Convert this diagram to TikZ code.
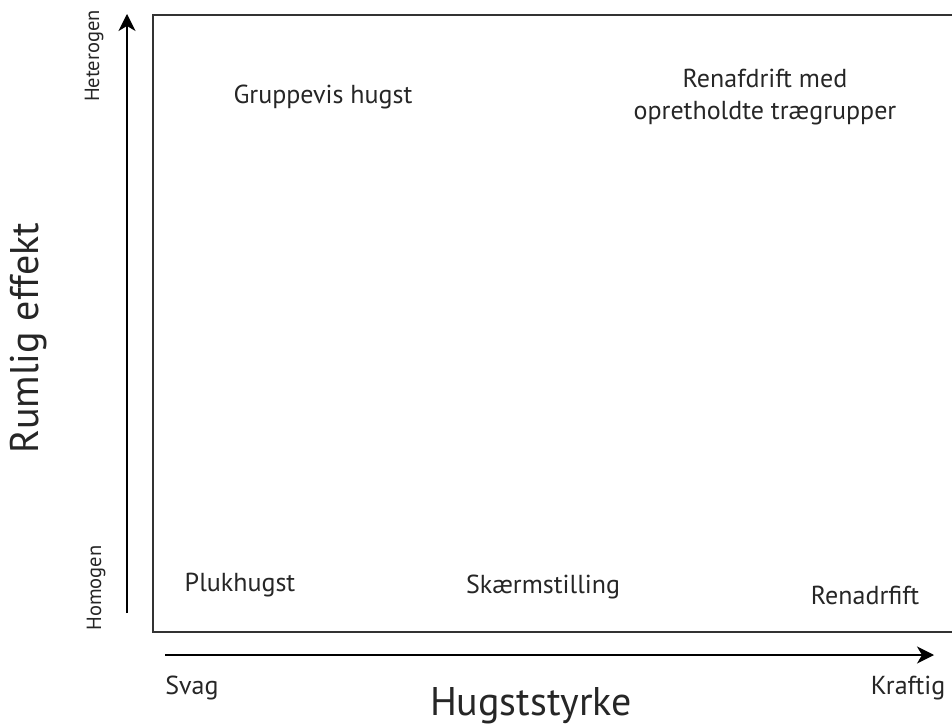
\documentclass[tikz,border=0pt]{standalone}
\usepackage{fontspec}
\setmainfont{PT Sans}
\usetikzlibrary{arrows.meta}
\begin{document}
\begin{tikzpicture}[x=1pt,y=-1pt,
  lbl/.style={inner sep=0pt, text=black!85, font=\fontsize{26}{31}\selectfont},
  small/.style={inner sep=0pt, text=black!85, font=\fontsize{20.5}{24}\selectfont},
  big/.style={inner sep=0pt, text=black!85, font=\fontsize{40}{46}\selectfont},
  axisarrow/.style={line width=1.6pt, -{Stealth[length=17pt,width=17pt,inset=5pt]}}]
\useasboundingbox (0,0) rectangle (952,727);
% frame (open on the right, cut by the edge)
\coordinate (fr) at (952,15);
\coordinate (ftl) at (153,15);
\coordinate (fbl) at (153,632);
\coordinate (fbr) at (952,632);
\draw[line width=2pt, black!80] (fr) -- (ftl) -- (fbl) -- (fbr);
% axes
\coordinate (ys) at (127,613);
\coordinate (ye) at (127,14);
\coordinate (xs) at (165,655);
\coordinate (xe) at (934,655);
\draw[axisarrow] (ys) -- (ye);
\draw[axisarrow] (xs) -- (xe);
% texts
\node[lbl] (grp) at (323,97) {Gruppevis hugst};
\node[lbl, align=center] (ren1) at (765,97) {Renafdrift med\\[1pt]opretholdte trægrupper};
\node[lbl] (pluk) at (240,585) {Plukhugst};
\node[lbl] (skaer) at (543,587) {Skærmstilling};
\node[lbl] (ren2) at (865,595) {Renadrfift};
\node[lbl] (svag) at (192,688) {Svag};
\node[lbl] (kraf) at (908,688) {Kraftig};
\node[big] (hug) at (531,706) {Hugststyrke};
\node[big, rotate=90] (rum) at (29,338) {Rumlig effekt};
\node[small, rotate=90] (het) at (94,56) {Heterogen};
\node[small, rotate=90] (hom) at (96,588) {Homogen};
\end{tikzpicture}
\end{document}
